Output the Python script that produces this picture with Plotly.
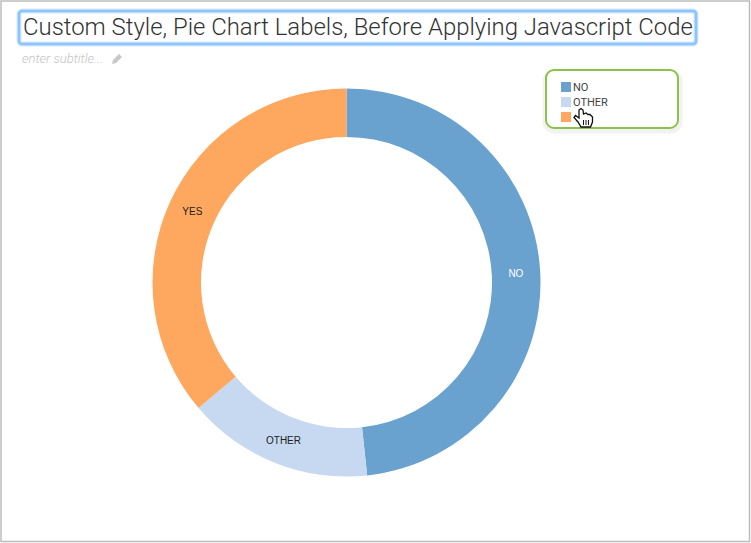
import plotly.graph_objects as go

W, H = 751, 543
categories = ["NO", "OTHER", "YES"]
values = [48.3, 15.5, 36.2]
colors = ["#6aa2cf", "#c6d9f0", "#fda75f"]
text_colors = ["#ffffff", "#222222", "#222222"]
title_text = "Custom Style, Pie Chart Labels, Before Applying Javascript Code"
subtitle_text = "enter subtitle..."
legend_labels = ["NO", "OTHER", ""]  # third label is covered by the pointer in the reference


def px(x):
    return x / W


def py(y):
    return 1 - y / H


def pts(points, close=True):
    s = "M" + " L".join(f"{px(x):.5f},{py(y):.5f}" for x, y in points)
    return s + (" Z" if close else "")


def rrect(x0, y0, x1, y1, r):
    k = r * 0.45
    c = lambda a, b, d, e, f, g: (
        f"C{px(a):.5f},{py(b):.5f} {px(d):.5f},{py(e):.5f} {px(f):.5f},{py(g):.5f} "
    )
    return (
        f"M{px(x0 + r):.5f},{py(y0):.5f} L{px(x1 - r):.5f},{py(y0):.5f} "
        + c(x1 - k, y0, x1, y0 + k, x1, y0 + r)
        + f"L{px(x1):.5f},{py(y1 - r):.5f} "
        + c(x1, y1 - k, x1 - k, y1, x1 - r, y1)
        + f"L{px(x0 + r):.5f},{py(y1):.5f} "
        + c(x0 + k, y1, x0, y1 - k, x0, y1 - r)
        + f"L{px(x0):.5f},{py(y0 + r):.5f} "
        + c(x0, y0 + k, x0 + k, y0, x0 + r, y0)
        + "Z"
    )


def path(d, fill="rgba(0,0,0,0)", line="rgba(0,0,0,0)", width=0):
    return dict(type="path", xref="paper", yref="paper", path=d,
                fillcolor=fill, line=dict(color=line, width=width))


cx, cy, R = 346.5, 282.5, 194
fig = go.Figure(go.Pie(
    labels=categories,
    values=values,
    sort=False,
    direction="clockwise",
    rotation=0,
    hole=0.75,
    marker=dict(colors=colors, line=dict(width=0)),
    textinfo="label",
    textposition="inside",
    insidetextorientation="horizontal",
    insidetextfont=dict(family="Liberation Sans, Arial, sans-serif", size=10, color=text_colors),
    domain=dict(x=[px(cx - R), px(cx + R)], y=[py(cy + R), py(cy - R)]),
    showlegend=False,
    hoverinfo="label+percent",
))

shapes = []
# outer frame
shapes.append(dict(type="rect", xref="paper", yref="paper", x0=px(1), x1=px(749.5), y0=py(541.5), y1=py(1),
                   line=dict(color="#bdbdbd", width=1.5), fillcolor="rgba(0,0,0,0)"))
# title box glow and border
shapes.append(path(rrect(19, 11, 696, 44, 3), line="rgba(120,185,250,0.35)", width=5))
shapes.append(path(rrect(19, 11, 696, 44, 3), line="#8cc3fa", width=2.5))
# legend box shadow and border
shapes.append(path(rrect(545, 72, 680, 131, 9), line="rgba(0,0,0,0.05)", width=5))
shapes.append(path(rrect(546, 70, 678, 128, 8), fill="#ffffff", line="#8bc34a", width=2))
# legend swatches
swatch_y = [82, 97, 112]
for c, y in zip(colors, swatch_y):
    shapes.append(dict(type="rect", xref="paper", yref="paper", x0=px(561), x1=px(571),
                       y0=py(y + 10), y1=py(y), fillcolor=c, line=dict(width=0)))
# pencil icon
shapes.append(path(pts([(112, 64), (113, 60), (119, 54), (122, 57), (116, 63)]), fill="#c8c8c8"))
# hand cursor
hand = [(579, 110), (581, 108.5), (583, 110), (583.5, 114), (586, 113), (588, 114.5), (590, 114.5),
        (592.5, 117), (592.5, 122), (590.5, 127), (581, 127), (578, 122), (574, 117.5), (575.5, 115.5),
        (579, 118)]
shapes.append(path(pts(hand), fill="#ffffff", line="#111111", width=1.3))
for x in (583.5, 586, 588.5):
    shapes.append(path(pts([(x, 120), (x, 125)], close=False), line="#111111", width=1))

annotations = [
    dict(x=px(20.5), y=py(27), xref="paper", yref="paper", xanchor="left", yanchor="middle",
         text=title_text, showarrow=False,
         font=dict(family="Roboto", size=23.9, color="#333333", weight=300)),
    dict(x=px(19.5), y=py(58.5), xref="paper", yref="paper", xanchor="left", yanchor="middle",
         text=f"<i>{subtitle_text}</i>", showarrow=False,
         font=dict(family="Roboto", size=13, color="#c4c4c4", weight=300)),
]
for label, y in zip(legend_labels, swatch_y):
    if label:
        annotations.append(dict(x=px(570.5), y=py(y + 5.5), xref="paper", yref="paper",
                                xanchor="left", yanchor="middle", text=label, showarrow=False,
                                font=dict(family="Roboto", size=11, color="#444444")))

fig.update_layout(
    width=W, height=H,
    margin=dict(l=0, r=0, t=0, b=0),
    paper_bgcolor="#ffffff",
    shapes=shapes,
    annotations=annotations,
)
fig.write_html("out.html", config=dict(displayModeBar=False),
               post_script="document.body.style.margin='0';document.body.style.overflow='hidden';")
